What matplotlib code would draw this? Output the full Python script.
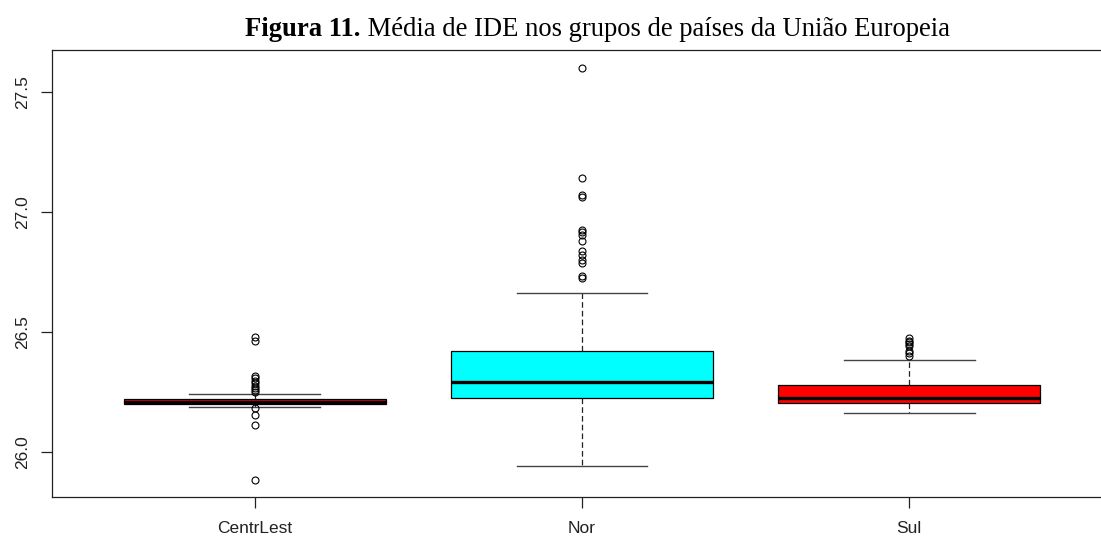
import matplotlib
matplotlib.use("Agg")
import matplotlib.pyplot as plt

# Summary statistics of mean FDI (IDE) per EU country group
groups = ["CentrLest", "Nor", "Sul"]
medians = [26.207, 26.289, 26.224]
q1 = [26.197, 26.224, 26.204]
q3 = [26.220, 26.418, 26.279]
whisk_lo = [26.186, 25.940, 26.160]
whisk_hi = [26.240, 26.662, 26.383]
outliers = [
    [26.476, 26.463, 26.316, 26.305, 26.295, 26.285, 26.275, 26.265,
     26.256, 26.248, 26.182, 26.153, 26.112, 25.880],
    [27.600, 27.142, 27.070, 27.060, 26.925, 26.915, 26.902, 26.880,
     26.838, 26.820, 26.800, 26.785, 26.732, 26.722],
    [26.472, 26.462, 26.455, 26.448, 26.440, 26.420, 26.410, 26.400],
]
box_colors = ["#ff0000", "#00ffff", "#ff0000"]
yticks = [26.0, 26.5, 27.0, 27.5]

W, H = 1101, 540
fig = plt.figure(figsize=(W / 100, H / 100), dpi=100)
ax = fig.add_axes([52 / W, 1 - 497 / H, (1112 - 52) / W, (497 - 50) / H])

stats = []
for i, g in enumerate(groups):
    stats.append(dict(label=g, med=medians[i], q1=q1[i], q3=q3[i],
                      whislo=whisk_lo[i], whishi=whisk_hi[i],
                      fliers=outliers[i]))

ink = "#222222"
bp = ax.bxp(
    stats, positions=[1, 2, 3], widths=0.8, capwidths=0.4,
    patch_artist=True, showfliers=True,
    boxprops=dict(edgecolor="black", linewidth=0.9),
    medianprops=dict(color="black", linewidth=2.4, solid_capstyle="butt"),
    whiskerprops=dict(color=ink, linewidth=0.9, linestyle=(0, (4.5, 2.5))),
    capprops=dict(color="#444444", linewidth=1.0),
    flierprops=dict(marker="o", markerfacecolor="none", markeredgecolor="black",
                    markersize=5, markeredgewidth=0.8, linestyle="none"),
)
for patch, c in zip(bp["boxes"], box_colors):
    patch.set_facecolor(c)

ax.set_xlim(0.38, 3.62)
ax.set_ylim(25.811, 27.674)
ax.set_yticks(yticks)
ax.set_yticklabels([f"{v:.1f}" for v in yticks], rotation=90, va="center",
                   fontfamily="Liberation Sans", fontsize=12.5, color=ink)
ax.set_xticks([1, 2, 3])
ax.set_xticklabels(groups, fontfamily="Liberation Sans", fontsize=12.5, color=ink)
ax.tick_params(axis="both", direction="out", length=8, width=0.9, color=ink)
ax.tick_params(axis="y", pad=8)
ax.tick_params(axis="x", pad=9)
for s in ax.spines.values():
    s.set_color(ink)
    s.set_linewidth(0.9)

# Title: bold figure number followed by regular caption text
fs = 19.2
t1 = fig.text(0, 1 - 36 / H, "Figura 11.", fontfamily="Liberation Serif",
              fontweight="bold", fontsize=fs, va="baseline", ha="left")
t2 = fig.text(0, 1 - 36 / H, " Média de IDE nos grupos de países da União Europeia",
              fontfamily="Liberation Serif", fontsize=fs, va="baseline", ha="left")
fig.canvas.draw()
r = fig.canvas.get_renderer()
w1 = t1.get_window_extent(r).width
w2 = t2.get_window_extent(r).width
x0 = 597.5 - (w1 + w2) / 2
t1.set_x(x0 / W)
t2.set_x((x0 + w1) / W)

fig.savefig("out.png", dpi=100)
